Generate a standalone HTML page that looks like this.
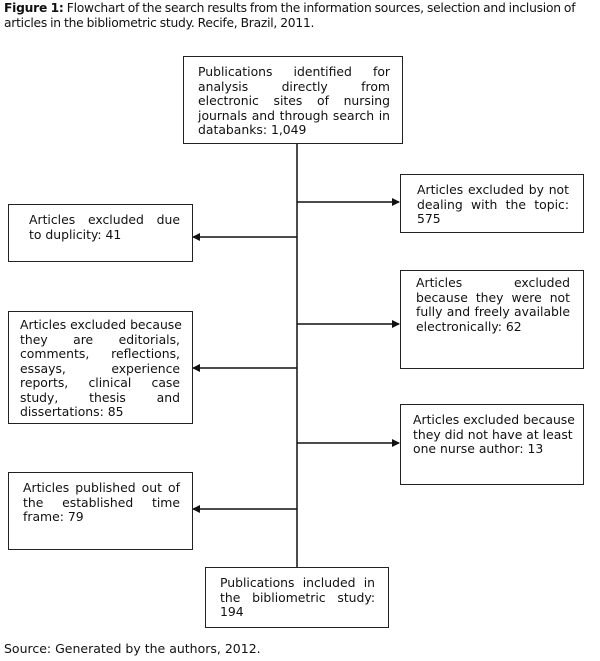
<!DOCTYPE html>
<html><head><meta charset="utf-8"><style>
body{margin:0;width:600px;height:661px;background:#fff;position:relative;overflow:hidden;font-family:"DejaVu Sans","Liberation Sans",sans-serif;color:#111}
.cap{position:absolute;left:4px;top:1px;font-size:12.3px;line-height:15px;width:598px;letter-spacing:-0.25px;word-spacing:-0.5px}
.b{position:absolute;border:1.5px solid #222;box-sizing:border-box;font-size:12.4px;line-height:14.5px;padding:8px 12px 0 14px}
.b span{display:block;white-space:nowrap;text-align:justify;text-align-last:justify}
.b span.e{text-align-last:left}
.src{position:absolute;left:4px;top:641px;font-size:12.5px}
svg{position:absolute;left:0;top:0}
</style></head><body>
<div class="cap"><b>Figure 1:</b> Flowchart of the search results from the information sources, selection and inclusion of articles in the bibliometric study. Recife, Brazil, 2011.</div>
<svg width="600" height="661">
<defs><marker id="a" markerWidth="8" markerHeight="8" refX="7" refY="4" orient="auto" markerUnits="userSpaceOnUse"><path d="M0,0L8,4L0,8z" fill="#111"/></marker></defs>
<g stroke="#111" stroke-width="1.5" fill="none">
<line x1="297" y1="143" x2="297" y2="567"/>
<line x1="297" y1="202" x2="399" y2="202" marker-end="url(#a)"/>
<line x1="297" y1="237" x2="193" y2="237" marker-end="url(#a)"/>
<line x1="297" y1="324" x2="399" y2="324" marker-end="url(#a)"/>
<line x1="297" y1="368" x2="193" y2="368" marker-end="url(#a)"/>
<line x1="297" y1="443" x2="399" y2="443" marker-end="url(#a)"/>
<line x1="297" y1="509" x2="193" y2="509" marker-end="url(#a)"/>
</g></svg>
<div class="b" style="left:183px;top:56px;width:220px;height:88px;padding-right:12px"><span>Publications identified for</span><span>analysis directly from</span><span>electronic sites of nursing</span><span>journals and through search in</span><span class="e">databanks: 1,049</span></div>
<div class="b" style="left:400px;top:174px;width:184px;height:59px;padding-left:16px;padding-right:14px"><span>Articles excluded by not</span><span>dealing with the topic:</span><span class="e">575</span></div>
<div class="b" style="left:8px;top:204px;width:185px;height:58px;padding-left:20px;padding-right:12px"><span>Articles excluded due</span><span class="e">to duplicity: 41</span></div>
<div class="b" style="left:400px;top:270px;width:184px;height:99px;padding-top:5px;padding-left:15px;padding-right:13px"><span>Articles excluded</span><span>because they were not</span><span>fully and freely available</span><span class="e">electronically: 62</span></div>
<div class="b" style="left:8px;top:311px;width:185px;height:113px;padding-left:11px;padding-top:6px;padding-right:12px"><span>Articles excluded because</span><span>they are editorials,</span><span>comments, reflections,</span><span>essays, experience</span><span>reports, clinical case</span><span>study, thesis and</span><span class="e">dissertations: 85</span></div>
<div class="b" style="left:400px;top:404px;width:184px;height:81px;padding-left:12px;padding-right:13px"><span>Articles excluded because</span><span>they did not have at least</span><span class="e">one nurse author: 13</span></div>
<div class="b" style="left:8px;top:472px;width:185px;height:78px;padding-left:14px;padding-right:12px"><span>Articles published out of</span><span>the established time</span><span class="e">frame: 79</span></div>
<div class="b" style="left:205px;top:567px;width:184px;height:61px;padding-left:14px;padding-right:13px"><span>Publications included in</span><span>the bibliometric study:</span><span class="e">194</span></div>
<div class="src">Source: Generated by the authors, 2012.</div>
</body></html>
